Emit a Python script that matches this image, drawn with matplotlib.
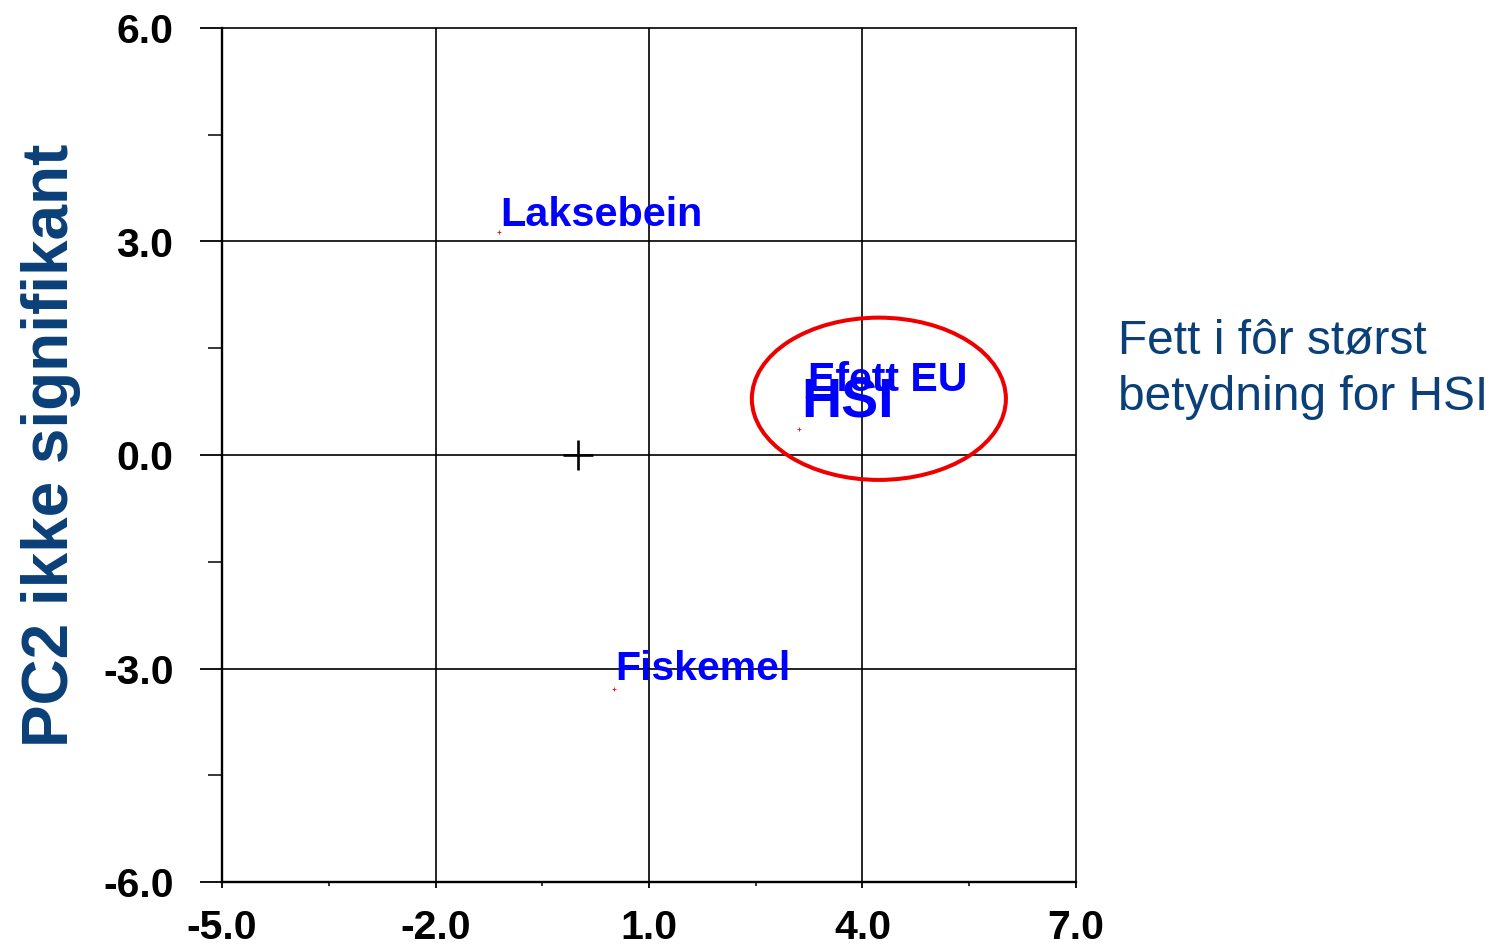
import matplotlib
matplotlib.use('Agg')
import matplotlib.pyplot as plt
from matplotlib.patches import Ellipse
from matplotlib.ticker import FixedLocator

plt.rcParams['font.family'] = ['Liberation Sans', 'DejaVu Sans']

# score plot data
names = ['Laksebein', 'Fiskemel', 'HSI', 'Efett EU']
pc1 = [-1.11, 0.51, 3.11, 3.22]
pc2 = [3.13, -3.29, 0.37, 0.81]
label_size = [29.8, 29.5, 40, 29.5]
label_offset = [(1, 6), (1, 9), (2, 11), (1, 6)]  # pixels

xticks = [-5.0, -2.0, 1.0, 4.0, 7.0]
yticks = [-6.0, -3.0, 0.0, 3.0, 6.0]
xminor = [-3.5, -0.5, 2.5, 5.5]
yminor = [-4.5, -1.5, 1.5, 4.5]

navy = '#0b3f78'

fig = plt.figure(figsize=(14.99, 9.46), dpi=100)
ax = fig.add_axes([222 / 1499, 64 / 946, 854 / 1499, 854 / 946])

ax.set_xlim(-5, 7)
ax.set_ylim(-6, 6)
ax.set_xticks(xticks)
ax.set_yticks(yticks)
ax.set_xticklabels([f'{v:.1f}' for v in xticks])
ax.set_yticklabels([f'{v:.1f}' for v in yticks])
ax.xaxis.set_minor_locator(FixedLocator(xminor))
ax.yaxis.set_minor_locator(FixedLocator(yminor))

ax.tick_params(axis='both', which='major', labelsize=29.5, width=1.3, color='black')
ax.tick_params(axis='y', which='major', direction='out', length=16, pad=19)
ax.tick_params(axis='y', which='minor', direction='out', length=10, width=1.1)
ax.tick_params(axis='x', which='major', direction='out', length=4.5, pad=15)
ax.tick_params(axis='x', which='minor', direction='out', length=3, width=1.1)
for lab in ax.get_xticklabels() + ax.get_yticklabels():
    lab.set_fontweight('bold')

for s in ['left', 'bottom']:
    ax.spines[s].set_linewidth(1.7)
for s in ['top', 'right']:
    ax.spines[s].set_linewidth(1.2)

# grid only at inner major ticks
for v in xticks[1:-1]:
    ax.axvline(v, color='black', lw=1.2, zorder=1)
for v in yticks[1:-1]:
    ax.axhline(v, color='black', lw=1.2, zorder=1)

# origin cross
ax.plot([0], [0], marker='+', ms=21, mew=1.9, color='black', zorder=3)

# samples
ax.plot(pc1, pc2, ls='none', marker='+', ms=3, mew=0.6, color='red', zorder=3)
for n, x, y, fs, off in zip(names, pc1, pc2, label_size, label_offset):
    ax.annotate(n, (x, y), xytext=off, textcoords='offset pixels',
                ha='left', va='baseline', fontsize=fs, fontweight='bold',
                color='#0000ff', zorder=4)

ax.add_patch(Ellipse((4.23, 0.79), 3.57, 2.28, fill=False, ec='#ee0000', lw=2.9, zorder=5))

fig.text(51 / 1499, 1 - 445 / 946, 'PC2 ikke signifikant', rotation=90,
         ha='center', va='center', fontsize=46, fontweight='bold', color=navy)
fig.text(1118 / 1499, 1 - 319 / 946, 'Fett i fôr størst\nbetydning for HSI',
         ha='left', va='top', fontsize=34.5, color=navy, linespacing=1.32)

fig.savefig('out.png', dpi=100)
